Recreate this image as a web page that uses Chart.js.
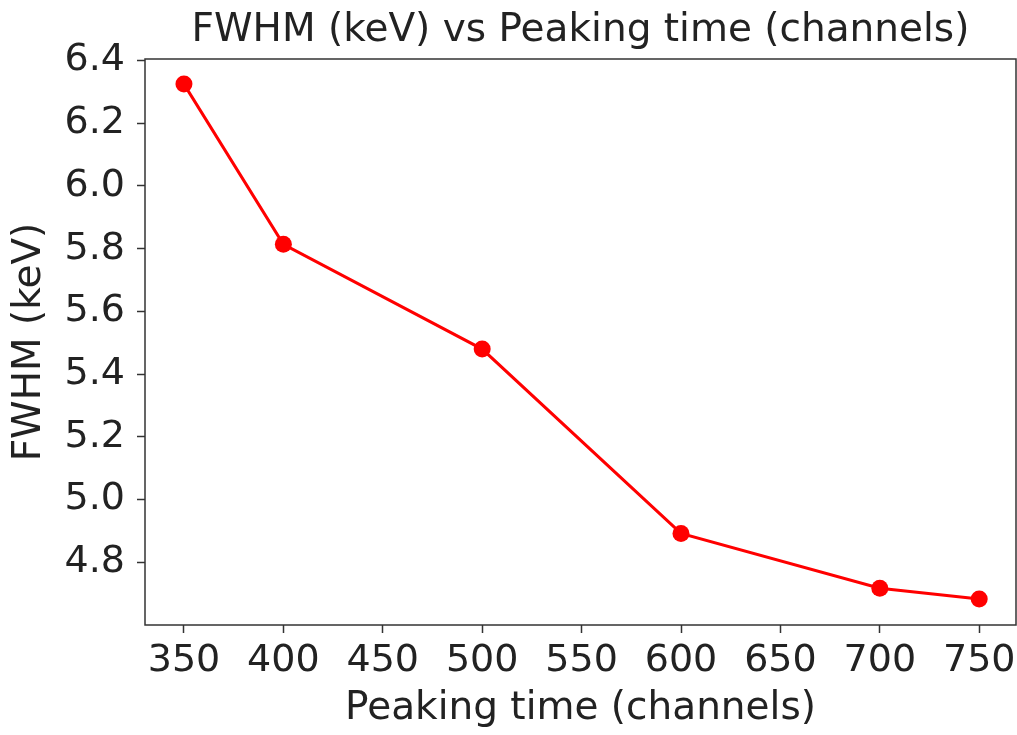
<!DOCTYPE html>
<html>
<head>
<meta charset="utf-8">
<script src="https://cdn.jsdelivr.net/npm/chart.js@4"></script>
<style>
    body { margin: 0; background: #fff; }
    canvas { display: block; }
</style>
</head>
<body>
<canvas id="fwhmChart" width="1017" height="735"></canvas>
<script>
// Datos
const peakingTimes = [350, 400, 500, 600, 700, 750];
const fwhmValues = [6.325, 5.814, 5.480, 4.892, 4.717, 4.683];
const xTickValues = [350, 400, 450, 500, 550, 600, 650, 700, 750];
const yTickValues = [4.8, 5.0, 5.2, 5.4, 5.6, 5.8, 6.0, 6.2, 6.4];

const chartTitle = 'FWHM (keV) vs Peaking time (channels)';
const textColor = '#222';
const fontFamily = "'DejaVu Sans', sans-serif";

// Marco completo y titulo centrado sobre el area del grafico
const frameBox = {
    id: 'frameBox',
    beforeDatasetsDraw(chart) {
        const { ctx, chartArea } = chart;
        ctx.save();
        ctx.strokeStyle = '#333';
        ctx.lineWidth = 1.5;
        ctx.strokeRect(chartArea.left, chartArea.top, chartArea.right - chartArea.left, chartArea.bottom - chartArea.top);
        ctx.restore();
    },
    afterDraw(chart) {
        const { ctx, chartArea } = chart;
        ctx.save();
        ctx.fillStyle = textColor;
        ctx.font = '39px ' + fontFamily;
        ctx.textAlign = 'center';
        ctx.textBaseline = 'middle';
        ctx.fillText(chartTitle, (chartArea.left + chartArea.right) / 2, 31);
        ctx.restore();
    }
};

const ctx = document.getElementById('fwhmChart').getContext('2d');
const fwhmChart = new Chart(ctx, {
    type: 'line',
    data: {
        datasets: [{
            label: 'FWHM',
            data: peakingTimes.map((t, i) => ({ x: t, y: fwhmValues[i] })),
            borderColor: '#ff0000',
            backgroundColor: '#ff0000',
            borderWidth: 3,
            pointRadius: 8.5,
            pointHoverRadius: 8.5,
            pointBorderWidth: 0,
            tension: 0,
            clip: false
        }]
    },
    options: {
        responsive: false,
        animation: false,
        layout: { autoPadding: false, padding: { left: 0, right: 1, top: 59, bottom: 0 } },
        plugins: {
            legend: { display: false },
            tooltip: { enabled: false },
            title: { display: false }
        },
        scales: {
            x: {
                type: 'linear',
                min: 330.4,
                max: 768.5,
                afterBuildTicks: function(scale) {
                    scale.ticks = xTickValues.map(v => ({ value: v }));
                },
                afterFit: function(scale) {
                    scale.height = 110;
                    scale.paddingLeft = 0;
                    scale.paddingRight = 0;
                },
                grid: { drawOnChartArea: false, tickLength: 8, tickWidth: 1.5, color: '#333' },
                border: { display: false },
                ticks: {
                    color: textColor,
                    padding: 5,
                    maxRotation: 0,
                    font: { family: fontFamily, size: 38 }
                },
                title: {
                    display: true,
                    text: 'Peaking time (channels)',
                    color: textColor,
                    font: { family: fontFamily, size: 39, lineHeight: 1.2 },
                    padding: { top: 0, bottom: 3 }
                }
            },
            y: {
                min: 4.6,
                max: 6.405,
                afterBuildTicks: function(scale) {
                    scale.ticks = yTickValues.map(v => ({ value: v }));
                },
                afterFit: function(scale) {
                    scale.width = 145;
                    scale.paddingTop = 0;
                    scale.paddingBottom = 0;
                },
                grid: { drawOnChartArea: false, tickLength: 8, tickWidth: 1.5, color: '#333' },
                border: { display: false },
                ticks: {
                    color: textColor,
                    padding: 12,
                    font: { family: fontFamily, size: 38 },
                    callback: v => v.toFixed(1)
                },
                title: {
                    display: true,
                    text: 'FWHM (keV)',
                    color: textColor,
                    font: { family: fontFamily, size: 39, lineHeight: 1.2 },
                    padding: { top: 6, bottom: 0 }
                }
            }
        }
    },
    plugins: [frameBox]
});
</script>
</body>
</html>
